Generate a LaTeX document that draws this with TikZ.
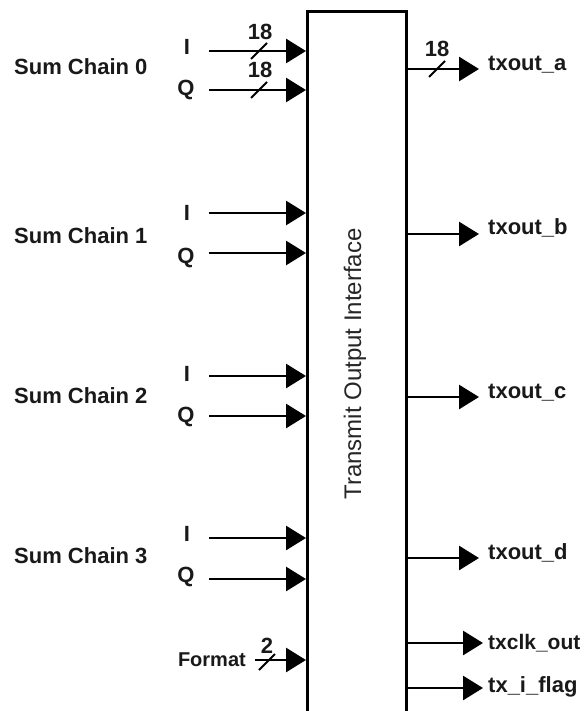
\documentclass[tikz,border=0pt]{standalone}
\usepackage{fontspec}
\setmainfont{Liberation Sans}
\usetikzlibrary{arrows.meta}

\begin{document}
\begin{tikzpicture}[x=1pt,y=-1pt,
  sig/.style={line width=2.8pt,-{Triangle[length=20pt,width=24pt]}},
  bus/.style={line width=1.8pt},
  lbl/.style={font=\bfseries\fontsize{22}{22}\selectfont,text=black!90,inner sep=0pt}]
  \useasboundingbox (0,0) rectangle (584,711);
  \node[draw,line width=2.8pt,minimum width=99pt,minimum height=740pt,
    anchor=north west,inner sep=0pt] (tx) at (306,10) {};
  \node[rotate=90,font=\fontsize{24}{24}\selectfont,text=black!85] (title) at (355,364) {Transmit Output Interface};
  \node[lbl,anchor=west] (sc0) at (14,67) {Sum Chain 0};
  \node[lbl,anchor=west] (sc1) at (14,236) {Sum Chain 1};
  \node[lbl,anchor=west] (sc2) at (14,396) {Sum Chain 2};
  \node[lbl,anchor=west] (sc3) at (14,556) {Sum Chain 3};
  \node[lbl] (i0) at (187,47) {I};
  \node[lbl] (q0) at (186,90) {Q};
  \node[lbl] (i1) at (187,213) {I};
  \node[lbl] (q1) at (186,258) {Q};
  \node[lbl] (i2) at (187,374) {I};
  \node[lbl] (q2) at (186,417) {Q};
  \node[lbl] (i3) at (187,534) {I};
  \node[lbl] (q3) at (186,577) {Q};
  \node[lbl,font=\bfseries\fontsize{20}{20}\selectfont,anchor=east] (fmt) at (246,660) {Format};
  \draw[sig] (209,51) -- (tx.west |- 0,51);
  \draw[sig] (209,90) -- (tx.west |- 0,90);
  \draw[sig] (209,213) -- (tx.west |- 0,213);
  \draw[sig] (209,253) -- (tx.west |- 0,253);
  \draw[sig] (209,376) -- (tx.west |- 0,376);
  \draw[sig] (209,416) -- (tx.west |- 0,416);
  \draw[sig] (209,538) -- (tx.west |- 0,538);
  \draw[sig] (209,579) -- (tx.west |- 0,579);
  \draw[sig] ([xshift=9pt]fmt.east) -- (fmt -| tx.west);
  \draw[bus] (251,59) -- (267,43);
  \node[lbl] at (260,32) {18};
  \draw[bus] (251,98) -- (267,82);
  \node[lbl] at (260,70) {18};
  \draw[bus] (259,670) -- (275,654);
  \node[lbl] at (267,646) {2};
  \node[lbl,anchor=west] (txa) at (488,65) {txout\_a};
  \node[lbl,anchor=west] (txb) at (488,228) {txout\_b};
  \node[lbl,anchor=west] (txc) at (488,393) {txout\_c};
  \node[lbl,anchor=west] (txd) at (488,553) {txout\_d};
  \node[lbl,font=\bfseries\fontsize{21}{21}\selectfont,anchor=west] (clk) at (488,643) {txclk\_out};
  \node[lbl,anchor=west] (flag) at (488,687) {tx\_i\_flag};
  \coordinate (pa) at (479,69);
  \coordinate (pb) at (479,234);
  \coordinate (pc) at (479,397);
  \coordinate (pd) at (479,558);
  \coordinate (pclk) at (483,643);
  \coordinate (pflag) at (483,688);
  \draw[sig] (pa -| tx.east) -- (pa);
  \draw[sig] (pb -| tx.east) -- (pb);
  \draw[sig] (pc -| tx.east) -- (pc);
  \draw[sig] (pd -| tx.east) -- (pd);
  \draw[sig] (pclk -| tx.east) -- (pclk);
  \draw[sig] (pflag -| tx.east) -- (pflag);
  \draw[bus] (429,77) -- (445,61);
  \node[lbl] at (437,49) {18};
\end{tikzpicture}
\end{document}
